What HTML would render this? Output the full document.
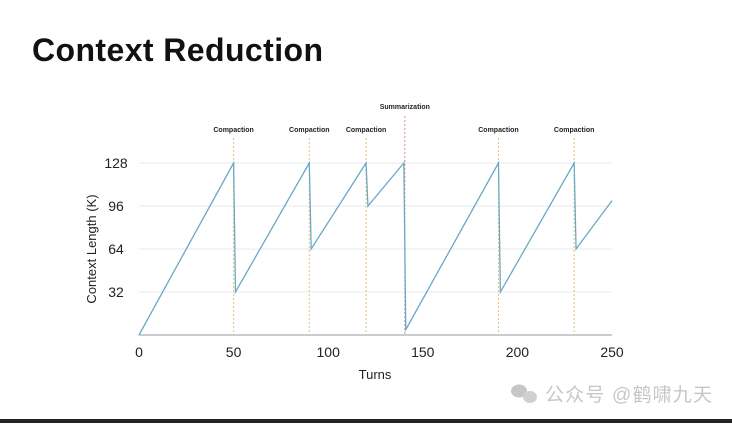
<!DOCTYPE html>
<html><head><meta charset="utf-8"><style>
body{margin:0;width:732px;height:423px;background:#fff;overflow:hidden;font-family:"Liberation Sans","Noto Sans CJK SC",sans-serif;}
</style></head><body>
<svg width="732" height="423">
<text x="32" y="61" font-size="32" font-weight="bold" fill="#111" textLength="291">Context Reduction</text>
<g id="plot"></g>
<text x="375" y="379" font-size="13" fill="#222" text-anchor="middle">Turns</text>
<text transform="translate(96,249) rotate(-90)" font-size="13" fill="#222" text-anchor="middle">Context Length (K)</text>
<g opacity="0.55">
<ellipse cx="519" cy="391" rx="8" ry="6.5" fill="#999"/><ellipse cx="530" cy="397" rx="7" ry="6" fill="#aaa"/>
<text x="545" y="401" font-size="19" fill="#999" textLength="167">公众号 @鹤啸九天</text></g>
<rect x="0" y="419" width="732" height="4" fill="#222"/>
</svg>
<script>
const turns=[0,50,51,90,91,120,121,140,141,190,191,230,231,250];
const ctx=[0,128,32,128,64,128,96,128,4,128,32,128,64,100];
const yTicks=[32,64,96,128];
const xTicks=[0,50,100,150,200,250];
const eventTurns=[50,90,120,140.5,190,230];
const eventLabels=["Compaction","Compaction","Compaction","Summarization","Compaction","Compaction"];
const sx=t=>139+t*1.892;
const sy=v=>335-v*(172/128);
const g=document.getElementById('plot');
const NS='http://www.w3.org/2000/svg';
function mk(tag,attrs,txt){const e=document.createElementNS(NS,tag);for(const k in attrs)e.setAttribute(k,attrs[k]);if(txt!==undefined)e.textContent=txt;g.appendChild(e);return e;}
yTicks.forEach(v=>{
const l=mk('line',{x1:139,x2:612,y1:sy(v),y2:sy(v),stroke:'#e6e8ec','stroke-width':1});


const t=mk('text',{x:116,y:sy(v)+5,'font-size':14,fill:'#222','text-anchor':'middle'},v);


});
xTicks.forEach(v=>{
const t=mk('text',{x:sx(v),y:357,'font-size':14,fill:'#222','text-anchor':'middle'},v);


});
eventTurns.forEach((v,i)=>{
const sum=eventLabels[i]==='Summarization';
const l=mk('line',{x1:sx(v),x2:sx(v),y1:sum?116:138,y2:335,stroke:sum?'#e08a9a':'#e8c070','stroke-width':1,'stroke-dasharray':'2,2'});


const t=mk('text',{x:sx(v),y:sum?109:132,'font-size':7,'font-weight':'bold',fill:'#222','text-anchor':'middle'},eventLabels[i]);


});
const ax=mk('line',{x1:139,x2:612,y1:335,y2:335,stroke:'#b8bcc4','stroke-width':1.5});


const p=mk('polyline',{points:turns.map((t,i)=>sx(t)+','+sy(ctx[i])).join(' '),fill:'none',stroke:'#6aa9c6','stroke-width':1.3});


</script>
</body></html>
